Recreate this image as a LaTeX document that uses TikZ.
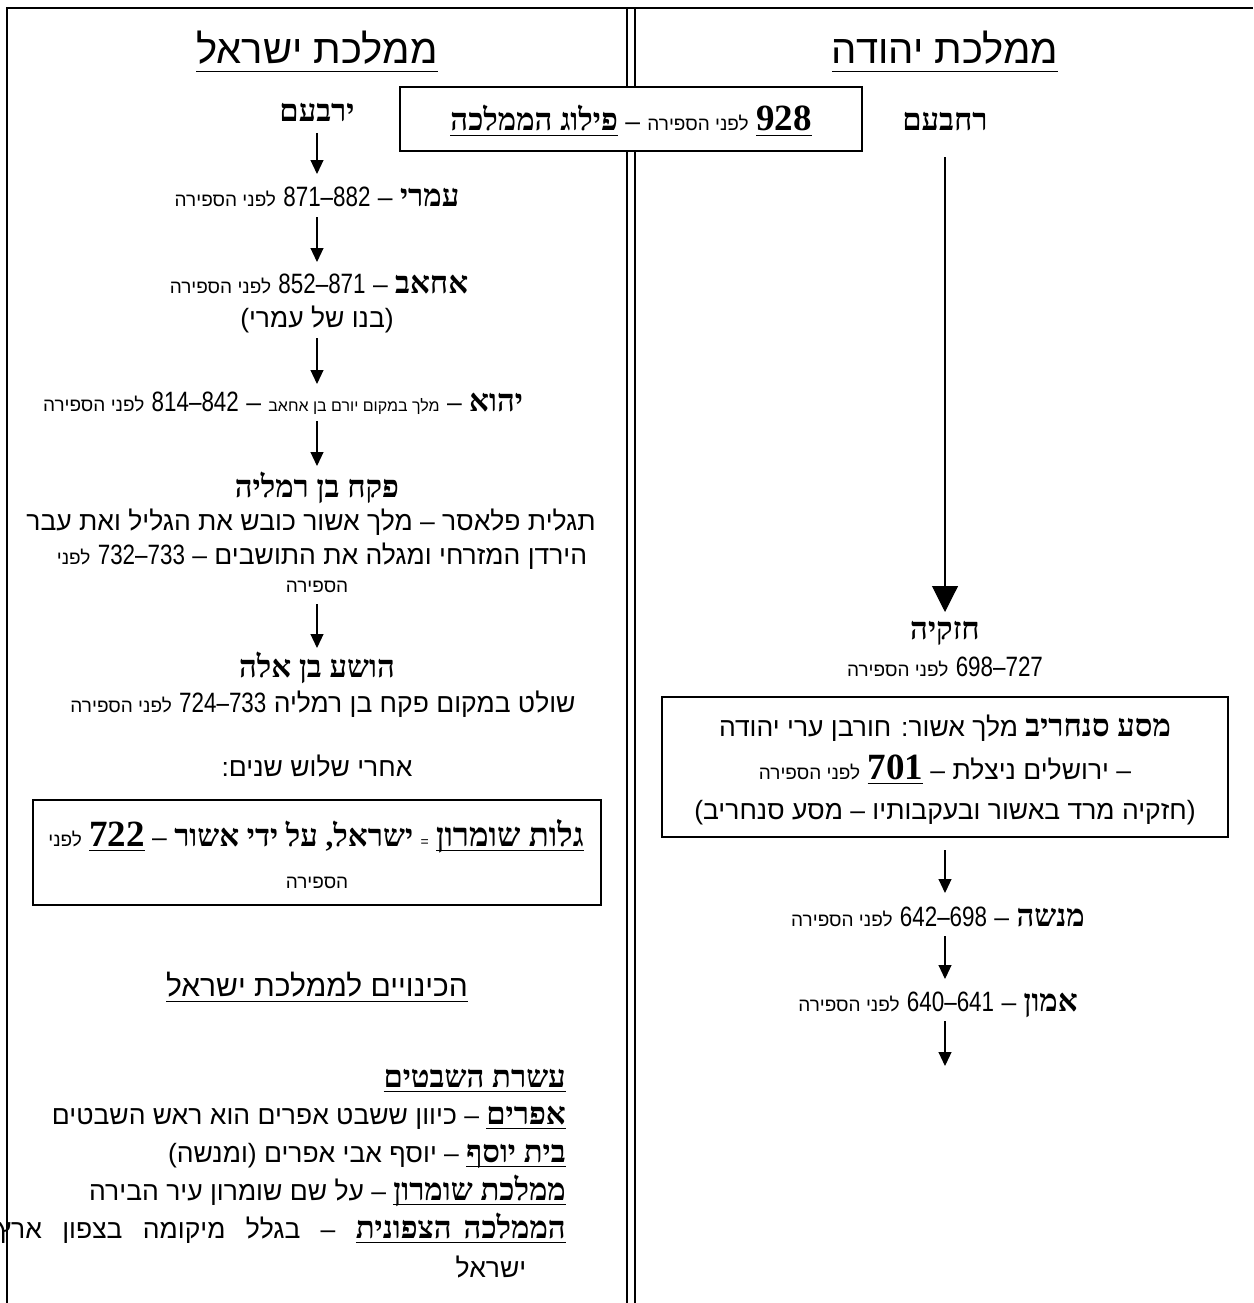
\documentclass[tikz,border=0pt]{standalone}
\usepackage{fontspec}
\usetikzlibrary{arrows.meta}
\TeXXeTstate=1
\newfontfamily\heb[Script=Hebrew]{Liberation Sans}
\newfontfamily\hebs[Script=Hebrew]{Liberation Serif}
\newfontfamily\numf[FakeStretch=0.8]{Liberation Sans}
\newfontfamily\numb{Liberation Serif}
\newcommand\fs[1]{\fontsize{#1}{#1}\selectfont}
\newcommand\Rl[1]{\beginR#1\endR}
\newcommand\bd[1]{{\hebs\bfseries\fs{31}#1}}
\newcommand\sm[1]{{\heb\fs{19}#1}}
\newcommand\nm[1]{{\numf\fs{28}#1}}
\newcommand\bn[1]{{\numb\bfseries\fs{37}#1}}
\newcommand\ul[1]{\hbox{\setbox0\hbox{\beginR#1\endR}\rlap{\rule[-0.2em]{\wd0}{1.2pt}}\box0}}
\tikzset{
  txt/.style={inner sep=0pt, anchor=base, font=\heb\fs{26.5}},
  frame/.style={line width=1.2pt},
  boxed/.style={draw, line width=1.2pt, fill=white, inner sep=0pt},
  arr/.style={-{Triangle[width=13pt,length=14pt]}, line width=1.1pt},
  bigarr/.style={-{Triangle[width=26pt,length=26pt]}, line width=1.1pt}
}
\begin{document}
\begin{tikzpicture}[x=1pt,y=-1pt]
\fill[white] (0,0) rectangle (1253,1303);
\useasboundingbox (0,0) rectangle (1253,1303);
% frame
\coordinate (tl) at (7,8);
\coordinate (tr) at (1253,8);
\coordinate (bl) at (7,1303);
\coordinate (d1t) at (627,8);
\coordinate (d1b) at (627,1303);
\coordinate (d2t) at (635,8);
\coordinate (d2b) at (635,1303);
\draw[frame] (bl) -- (tl) -- (tr);
\draw[frame] (d1t) -- (d1b);
\draw[frame] (d2t) -- (d2b);

% titles
\node[txt, font=\heb\fs{40}] (titleL) at (317,64) {\Rl{\ul{ממלכת ישראל}}};
\node[txt, font=\heb\fs{40}] (titleR) at (945,64) {\Rl{\ul{ממלכת יהודה}}};

% split box
\node[boxed, minimum width=462pt, minimum height=64pt] (split) at (631,119) {};
\node[txt] (splittxt) at (631,131) {\Rl{\ul{\bn{928}} \sm{לפני הספירה} – \ul{\bd{פילוג הממלכה}}}};

% Israel chain
\node[txt] (yarovam) at (317,122) {\Rl{\bd{ירבעם}}};
\node[txt] (omri) at (317,206) {\Rl{\bd{עמרי} – \nm{871–882} \sm{לפני הספירה}}};
\node[txt] (ahav) at (319,293) {\Rl{\bd{אחאב} – \nm{852–871} \sm{לפני הספירה}}};
\node[txt] (bnu) at (317,327) {\Rl{(בנו של עמרי)}};
\node[txt] (yehu) at (283,411) {\Rl{\bd{יהוא} – {\fs{16}מלך במקום יורם בן אחאב} – \nm{814–842} \sm{לפני הספירה}}};
\node[txt] (pekah) at (317,497) {\Rl{\bd{פקח בן רמליה}}};
\node[txt] (tiglat) at (311,530) {\Rl{תגלית פלאסר – מלך אשור כובש את הגליל ואת עבר}};
\node[txt] (yarden) at (322,564) {\Rl{הירדן המזרחי ומגלה את התושבים – \nm{732–733} \sm{לפני}}};
\node[txt] (sfiraA) at (317,592) {\Rl{\sm{הספירה}}};
\node[txt] (hoshea) at (317,677) {\Rl{\bd{הושע בן אלה}}};
\node[txt] (shalat) at (323,712) {\Rl{שולט במקום פקח בן רמליה \nm{724–733} \sm{לפני הספירה}}};
\node[txt] (achrei) at (317,776) {\Rl{אחרי שלוש שנים:}};

\node[boxed, minimum width=568pt, minimum height=105pt] (galutbox) at (317,852.5) {};
\node[txt] (galut) at (316,846) {\Rl{\ul{\bd{\fs{33}גלות שומרון}} {\fs{14}=} \bd{ישראל, על ידי אשור} – \ul{\bn{722}} \sm{לפני}}};
\node[txt] (sfiraB) at (317,888) {\Rl{\sm{הספירה}}};

\coordinate (a1s) at (317,133); \coordinate (a1e) at (317,174);
\coordinate (a2s) at (317,217); \coordinate (a2e) at (317,262);
\coordinate (a3s) at (317,338); \coordinate (a3e) at (317,384);
\coordinate (a4s) at (317,421); \coordinate (a4e) at (317,466);
\coordinate (a5s) at (317,604); \coordinate (a5e) at (317,648);
\draw[arr] (a1s) -- (a1e);
\draw[arr] (a2s) -- (a2e);
\draw[arr] (a3s) -- (a3e);
\draw[arr] (a4s) -- (a4e);
\draw[arr] (a5s) -- (a5e);

% names of the kingdom
\node[txt, font=\heb\fs{30}] (kinuyim) at (317,996) {\Rl{\ul{הכינויים לממלכת ישראל}}};
\node[txt, anchor=base east] (l1) at (566,1087) {\Rl{\ul{\bd{עשרת השבטים}}}};
\node[txt, anchor=base east] (l2) at (566,1124) {\Rl{\ul{\bd{אפרים}} – כיוון ששבט אפרים הוא ראש השבטים}};
\node[txt, anchor=base east] (l3) at (566,1162) {\Rl{\ul{\bd{בית יוסף}} – יוסף אבי אפרים (ומנשה)}};
\node[txt, anchor=base east] (l4) at (566,1200) {\Rl{\ul{\bd{ממלכת שומרון}} – על שם שומרון עיר הבירה}};
\node[txt, anchor=base east] (l5) at (566,1238) {\hbox to 568pt{\beginR\ul{\hbox to 210pt{\beginR\bd{הממלכה}\hfill\bd{הצפונית}\endR}}\hfill–\hfill בגלל\hfill מיקומה\hfill בצפון\hfill ארץ\endR}};
\node[txt] (l6) at (491,1277) {\Rl{ישראל}};

% Judah chain
\node[txt] (rechavam) at (945,131) {\Rl{\bd{רחבעם}}};
\node[txt] (chizkiya) at (945,639) {\Rl{\bd{חזקיה}}};
\node[txt] (chizdates) at (945,676) {\Rl{\nm{698–727} \sm{לפני הספירה}}};
\node[boxed, minimum width=566pt, minimum height=140pt] (sanbox) at (945,767) {};
\node[txt] (r1) at (945,736) {\Rl{\bd{מסע סנחריב} מלך אשור: חורבן ערי יהודה}};
\node[txt] (r2) at (945,779) {\Rl{– ירושלים ניצלת – \ul{\bn{701}} \sm{לפני הספירה}}};
\node[txt] (r3) at (945,819) {\Rl{(חזקיה מרד באשור ובעקבותיו – מסע סנחריב)}};
\node[txt] (menashe) at (938,926) {\Rl{\bd{מנשה} – \nm{642–698} \sm{לפני הספירה}}};
\node[txt] (amon) at (938,1011) {\Rl{\bd{אמון} – \nm{640–641} \sm{לפני הספירה}}};

\coordinate (b1s) at (945,157); \coordinate (b1e) at (945,612);
\coordinate (b2s) at (945,850); \coordinate (b2e) at (945,893);
\coordinate (b3s) at (945,936); \coordinate (b3e) at (945,979);
\coordinate (b4s) at (945,1021); \coordinate (b4e) at (945,1066);
\draw[bigarr] (b1s) -- (b1e);
\draw[arr] (b2s) -- (b2e);
\draw[arr] (b3s) -- (b3e);
\draw[arr] (b4s) -- (b4e);
\end{tikzpicture}
\end{document}
